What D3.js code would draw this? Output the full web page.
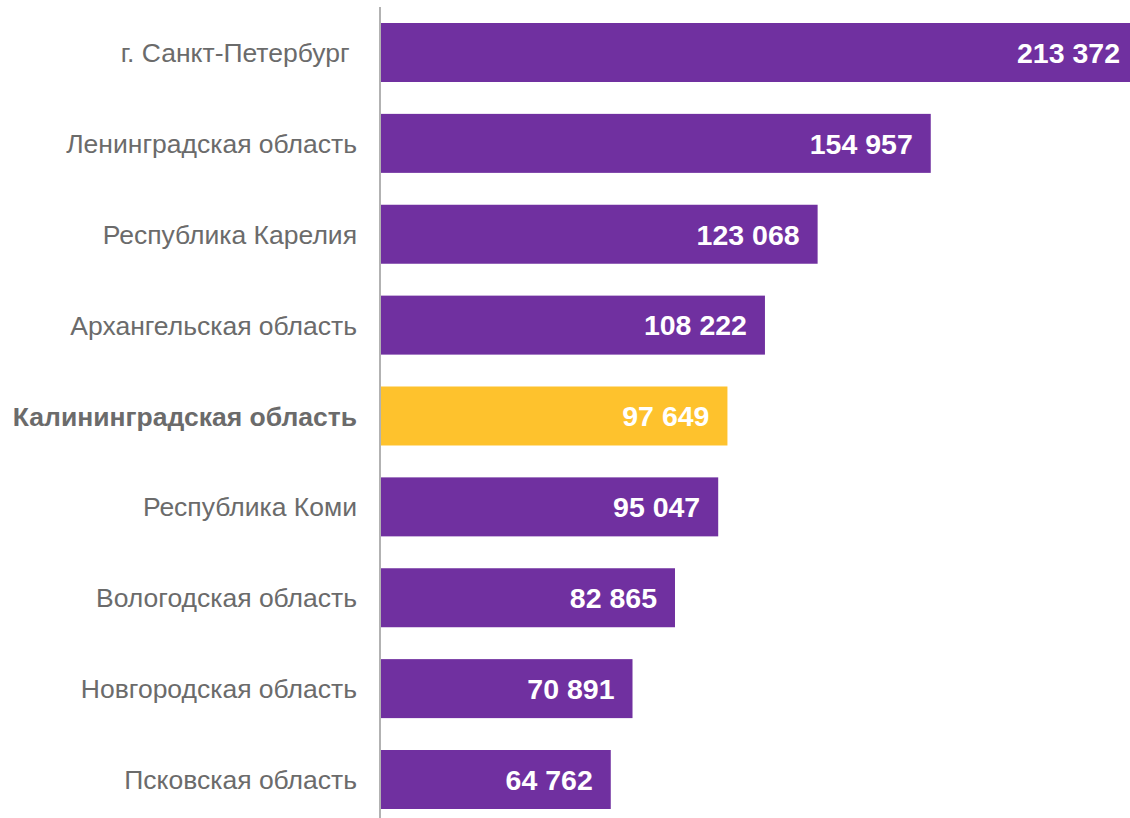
<!DOCTYPE html>
<html><head><meta charset="utf-8">
<script src="https://cdn.jsdelivr.net/npm/d3@7"></script>
<style>html,body{margin:0;padding:0;background:#fff;overflow:hidden}
text{font-family:'Liberation Sans', Arial, sans-serif}</style>
</head><body>
<svg id="c" width="1130" height="818"></svg>
<script>
const categories = ["г. Санкт-Петербург ", "Ленинградская область", "Республика Карелия", "Архангельская область", "Калининградская область", "Республика Коми", "Вологодская область", "Новгородская область", "Псковская область"];
const values = [213372, 154957, 123068, 108222, 97649, 95047, 82865, 70891, 64762];
const highlight = ["Калининградская область"];

const svg = d3.select("#c");
const x = d3.scaleLinear().domain([0, 213372]).range([381, 1138]);
const step = 90.875;
const y = d3.scaleBand().domain(categories).range([23 - step * 0.1754, 23 - step * 0.1754 + step * categories.length]).paddingInner(0.3508).paddingOuter(0.1754);
const fmt = v => d3.format(",")(v).replace(/,/g, " ");
const data = categories.map((c, i) => ({c, v: values[i]}));

svg.selectAll("rect.bar").data(data).join("rect")
  .attr("x", x(0)).attr("y", d => y(d.c))
  .attr("width", d => x(d.v) - x(0)).attr("height", y.bandwidth())
  .attr("fill", d => highlight.includes(d.c) ? "#FEC22D" : "#7030A0");

svg.selectAll("text.val").data(data).join("text")
  .attr("x", d => x(d.v) - 18).attr("y", d => y(d.c) + y.bandwidth() / 2)
  .attr("dy", "0.36em").attr("text-anchor", "end")
  .attr("font-size", 28.5).attr("font-weight", "bold").attr("fill", "#fff")
  .text(d => fmt(d.v));

svg.selectAll("text.cat").data(data).join("text")
  .attr("x", 357).attr("y", d => y(d.c) + y.bandwidth() / 2)
  .attr("dy", "0.36em").attr("text-anchor", "end")
  .attr("font-size", 26.5)
  .attr("font-weight", d => highlight.includes(d.c) ? "bold" : "normal")
  .attr("fill", "#6b6b6b")
  .style("white-space", "pre")
  .text(d => d.c);

svg.append("line").attr("x1", 380).attr("x2", 380).attr("y1", 7).attr("y2", 818)
  .attr("stroke", "#999").attr("stroke-width", 1.5);
</script>
</body></html>
